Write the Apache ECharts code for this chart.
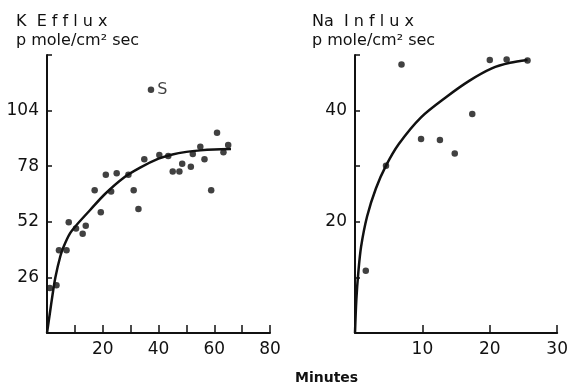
<!DOCTYPE html>
<html>
<head>
<meta charset="utf-8">
<script src="https://cdn.jsdelivr.net/npm/echarts@6/dist/echarts.min.js"></script>
<style>
  html, body { margin: 0; padding: 0; background: #fff; }
  #chart { width: 571px; height: 385px; }
</style>
</head>
<body>
<div id="chart"></div>
<script>
// K efflux (left panel), minutes vs pmole/cm2 sec
const kTime = [61, 55, 65, 63.3, 52.3, 56.5, 34.9, 40.3, 43.5, 48.5, 51.6, 45.1, 47.5, 29.2, 25, 21.1,
  17.1, 23, 31.1, 58.9, 19.3, 32.8, 7.8, 10.4, 13.9, 12.8, 4.3, 7.0, 3.4, 1.0]
const kFlux = [93.6, 87.1, 87.9, 84.5, 83.7, 81.2, 81.2, 83.2, 82.8, 79.1, 77.8, 75.5, 75.5, 74, 74.7, 74,
  66.7, 66.2, 66.7, 66.7, 56.5, 58.0, 51.8, 48.9, 50.1, 46.4, 38.7, 38.7, 22.3, 21]
const kS = [37.3, 113.8]
const kCurveTime = [0, 1, 2, 3, 4.8, 6, 8.2, 10.6, 15.4, 20.8, 27.4, 33.4, 40, 45, 50, 55, 60, 66]
const kCurveFlux = [0, 9, 18, 26, 36, 40.5, 46.5, 50.5, 57.4, 65, 72.5, 77.3, 81.5, 83.5, 84.7, 85.4, 85.8, 86]
const kYTicks = [26, 52, 78, 104]
const kXTicks = [20, 40, 60, 80]

// Na influx (right panel)
const naTime = [6.9, 20.0, 22.5, 25.6, 17.4, 9.8, 12.6, 14.8, 4.6, 1.6]
const naFlux = [48.3, 49.1, 49.2, 49.0, 39.4, 34.9, 34.7, 32.3, 30.1, 11.2]
const naCurveTime = [0, 0.2, 0.5, 0.9, 1.8, 3.1, 4.6, 6.5, 9.8, 13.6, 17, 20.3, 23, 25.6]
const naCurveFlux = [0, 6, 11, 15.5, 21, 26, 30.1, 34, 38.8, 42.5, 45.4, 47.6, 48.6, 49.1]
const naYTicks = [20, 40]
const naXTicks = [10, 20, 30]

const zip = (a, b) => a.map((v, i) => [v, b[i]])
const font = 'DejaVu Sans'

const axisBase = {
  type: 'value',
  axisLine: { show: true, lineStyle: { color: '#111', width: 2 } },
  splitLine: { show: false },
  axisLabel: { color: '#111', fontFamily: font, fontSize: 17, margin: 8 }
}

function xAxis(idx, max, labels) {
  return {
    ...axisBase,
    gridIndex: idx, min: 0, max: max, interval: 10,
    axisTick: { inside: true, length: 8, lineStyle: { color: '#111', width: 1.5 } },
    axisLabel: { ...axisBase.axisLabel, formatter: v => labels.includes(v) ? String(v) : '' }
  }
}
function yAxis(idx, max, interval, labels) {
  return {
    ...axisBase,
    gridIndex: idx, min: 0, max: max, interval: interval,
    axisTick: { inside: true, length: 5, lineStyle: { color: '#111', width: 1.5 } },
    axisLabel: { ...axisBase.axisLabel, formatter: v => labels.includes(v) ? String(v) : '' }
  }
}

const curveStyle = { color: '#111', width: 2.5 }

const myChart = echarts.init(document.getElementById('chart'))
myChart.setOption({
  animation: false,
  backgroundColor: '#fff',
  title: [
    {
      text: 'K  E f f l u x\np mole/cm² sec',
      left: 11, top: 7,
      textStyle: { fontFamily: font, fontSize: 16, fontWeight: 'normal', color: '#111', lineHeight: 19 }
    },
    {
      text: 'Na  I n f l u x\np mole/cm² sec',
      left: 307, top: 7,
      textStyle: { fontFamily: font, fontSize: 16, fontWeight: 'normal', color: '#111', lineHeight: 19 }
    },
    {
      text: 'Minutes',
      left: 290, top: 366,
      textStyle: { fontFamily: font, fontSize: 14, fontWeight: 'bold', color: '#111' }
    }
  ],
  grid: [
    { left: 47, right: 301, top: 55, bottom: 52 },
    { left: 355, right: 9, top: 55, bottom: 52 }
  ],
  xAxis: [xAxis(0, 80, kXTicks), xAxis(1, 30, naXTicks)],
  yAxis: [yAxis(0, 130, 26, kYTicks), yAxis(1, 50, 10, naYTicks)],
  series: [
    {
      type: 'line', xAxisIndex: 0, yAxisIndex: 0,
      data: zip(kCurveTime, kCurveFlux), smooth: 0.3, showSymbol: false,
      lineStyle: curveStyle
    },
    {
      type: 'scatter', xAxisIndex: 0, yAxisIndex: 0,
      data: zip(kTime, kFlux), symbolSize: 6.5, itemStyle: { color: '#111' }
    },
    {
      type: 'scatter', xAxisIndex: 0, yAxisIndex: 0,
      data: [kS], symbolSize: 6.5, itemStyle: { color: '#111' },
      label: { show: true, position: 'right', distance: 3, formatter: 'S', color: '#111', fontFamily: font, fontSize: 16 }
    },
    {
      type: 'line', xAxisIndex: 1, yAxisIndex: 1,
      data: zip(naCurveTime, naCurveFlux), smooth: 0.3, showSymbol: false,
      lineStyle: curveStyle
    },
    {
      type: 'scatter', xAxisIndex: 1, yAxisIndex: 1,
      data: zip(naTime, naFlux), symbolSize: 6.5, itemStyle: { color: '#111' }
    }
  ]
})
window.addEventListener('resize', () => {
  myChart.resize()
})
</script>
</body>
</html>
